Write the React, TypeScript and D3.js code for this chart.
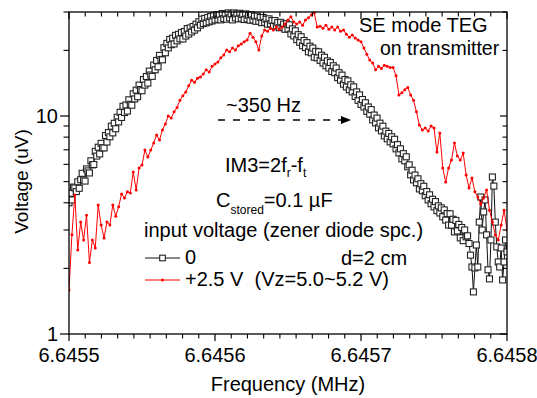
import React from "react";
import * as d3 from "d3";

// Frequency sweeps (MHz): start and step of each measured sweep
const freqStartMHz = 6.6455;
const zeroStepMHz = 0.000001;
const plusStepMHz = 0.000002;

// Series "0" (input voltage 0), values in uV
const seriesZero: number[] = [
  4.0, 4.42, 4.12, 4.72, 4.68, 4.5, 4.99, 4.66, 5.1, 5.46,
  5.09, 5.03, 5.72, 5.6, 5.48, 6.23, 5.97, 5.99, 6.88, 6.55,
  7.19, 6.7, 7.49, 7.15, 7.14, 8.14, 7.6, 8.39, 8.03, 8.98,
  8.37, 9.26, 8.74, 9.87, 9.4, 10.4, 9.85, 11.08, 10.38, 11.23,
  10.53, 11.87, 11.32, 11.21, 12.65, 11.98, 13.14, 12.26, 13.86, 13.23,
  13.06, 14.7, 13.87, 15.18, 14.16, 16.07, 15.42, 15.2, 17.12, 16.3,
  17.99, 16.82, 18.97, 18.18, 18.1, 20.58, 19.5, 21.53, 20.54, 22.46,
  21.24, 22.76, 21.41, 23.45, 22.12, 23.69, 22.6, 24.13, 22.56, 24.41,
  23.28, 25.17, 23.77, 25.34, 24.3, 25.75, 24.79, 26.37, 25.38, 27.09,
  26.12, 27.81, 26.56, 28.02, 26.75, 28.3, 27.05, 28.6, 27.3, 28.8,
  27.6, 29.1, 27.8, 29.1, 27.6, 29.5, 28.0, 29.3, 27.8, 29.7,
  28.2, 29.4, 27.6, 29.7, 28.2, 29.4, 27.9, 29.6, 28.1, 29.2,
  27.7, 29.4, 27.9, 29.0, 27.5, 29.1, 27.6, 28.7, 27.2, 28.7,
  27.2, 28.3, 26.8, 28.3, 26.9, 27.8, 26.4, 27.9, 26.5, 27.4,
  25.9, 27.4, 25.9, 26.8, 25.4, 26.9, 25.5, 26.4, 25.0, 26.5,
  25.1, 26.2, 23.8, 25.1, 23.3, 24.6, 22.4, 23.6, 21.8, 23.1,
  21.0, 22.2, 20.6, 21.7, 19.7, 20.9, 19.5, 20.5, 18.6, 19.8,
  18.5, 19.7, 18.0, 19.0, 17.5, 18.6, 17.0, 17.9, 16.6, 17.6,
  16.0, 17.0, 15.8, 16.6, 15.0, 15.8, 14.6, 15.4, 14.0, 14.7,
  13.6, 14.5, 13.2, 13.9, 12.9, 13.6, 12.3, 12.9, 11.8, 12.5,
  11.3, 11.9, 11.0, 11.5, 10.5, 11.0, 10.2, 10.7, 9.6, 10.1,
  9.3, 9.78, 8.83, 9.27, 8.55, 8.98, 8.11, 8.52, 7.86, 8.32,
  7.61, 8.03, 7.45, 7.82, 7.07, 7.39, 6.77, 7.07, 6.36, 6.72,
  6.23, 6.5, 5.85, 5.97, 5.37, 5.64, 5.09, 5.36, 4.94, 5.15,
  4.63, 4.89, 4.54, 4.76, 4.31, 4.5, 4.12, 4.35, 3.96, 4.15,
  3.83, 4.05, 3.68, 3.87, 3.59, 3.79, 3.45, 3.71, 3.33, 3.57,
  3.16, 3.56, 3.16, 3.36, 2.94, 3.32, 2.97, 3.18, 2.76, 3.08,
  2.68, 3.0, 2.79, 2.82, 2.6, 2.3, 2.03, 1.56, 2.01, 2.56,
  2.03, 3.26, 4.25, 3.0, 3.63, 4.12, 2.85, 1.97, 1.79, 2.7,
  5.25, 4.77, 3.26, 2.51, 2.14, 2.03, 2.48, 1.77, 2.14, 2.7,
  2.38,
];

// Series "+2.5 V (Vz=5.0~5.2 V)", values in uV
const seriesPlus25: number[] = [
  1.59, 2.85, 4.34, 2.43, 3.26, 2.7, 3.51, 2.13, 2.7, 2.48,
  3.91, 3.16, 2.76, 3.26, 3.16, 3.91, 3.47, 3.83, 4.39, 4.21,
  4.49, 4.44, 5.54, 4.58, 5.77, 5.96, 6.98, 6.48, 6.98, 7.52,
  8.18, 7.76, 8.63, 9.2, 10.0, 9.79, 10.45, 10.95, 11.8, 12.4,
  12.9, 13.75, 14.6, 14.3, 14.9, 15.1, 15.6, 16.3, 15.9, 16.9,
  17.3, 17.7, 18.5, 19.05, 20.1, 19.7, 20.5, 20.1, 21.0, 21.4,
  21.9, 22.3, 24.0, 23.0, 21.9, 20.1, 23.3, 24.8, 24.5, 25.3,
  24.8, 25.6, 25.0, 25.6, 26.4, 27.6, 28.5, 27.0, 26.4, 27.0,
  26.1, 27.6, 28.2, 29.1, 29.7, 25.6, 25.8, 25.3, 26.1, 25.0,
  25.6, 24.8, 25.6, 24.5, 24.8, 23.7, 23.0, 23.5, 22.8, 22.3,
  21.9, 20.5, 19.2, 18.07, 17.5, 16.3, 16.9, 16.5, 17.1, 16.9,
  16.7, 16.7, 15.3, 12.5, 12.8, 13.2, 13.5, 12.5, 11.8, 10.45,
  9.1, 8.63, 8.81, 8.54, 9.0, 8.81, 6.83, 8.36, 5.77, 4.98,
  5.77, 6.28, 7.52, 6.55, 6.28, 6.76, 5.36, 4.68, 5.2, 4.49,
  4.25, 3.95, 4.21, 4.58, 3.7, 3.26, 2.85, 2.7, 3.16, 3.7,
  3.0,
];

const xMajorTicks = [6.6455, 6.6456, 6.6457, 6.6458];
const xTickLabels = ["6.6455", "6.6456", "6.6457", "6.6458"];
const yMajorTicks = [1, 10];
const yTickLabels = ["1", "10"];
const yMinorTicks = [2, 3, 4, 5, 6, 7, 8, 9, 20, 30];

const W = 537;
const H = 398;
const M = { left: 69, right: 507, top: 12, bottom: 334 };
const FONT = "'Liberation Sans', Arial, Helvetica, sans-serif";
const FS = 20;

export default function App() {
  const x = d3.scaleLinear().domain([6.6455, 6.6458]).range([M.left, M.right]);
  const y = d3.scaleLog().domain([1, 30]).range([M.bottom, M.top]);

  const zeroPts = seriesZero.map((v, i) => [freqStartMHz + i * zeroStepMHz, v] as [number, number]);
  const redPts = seriesPlus25.map((v, i) => [freqStartMHz + i * plusStepMHz, v] as [number, number]);

  const line = d3
    .line<[number, number]>()
    .x((d) => x(d[0]))
    .y((d) => y(d[1]));

  // x minor ticks: 8 minor ticks between majors
  const xMinor: number[] = [];
  for (let k = 0; k < xMajorTicks.length - 1; k++) {
    const a = xMajorTicks[k];
    const b = xMajorTicks[k + 1];
    for (let j = 1; j <= 8; j++) xMinor.push(a + ((b - a) * j) / 9);
  }

  const sq = 6;
  const ax = "#000";

  return (
    <svg
      width={W}
      height={H}
      style={{ position: "absolute", left: 0, top: 0, background: "#fff" }}
      fontFamily={FONT}
    >
      <defs>
        <clipPath id="plotclip">
          <rect x={M.left} y={M.top - 4} width={M.right - M.left} height={M.bottom - M.top + 4} />
        </clipPath>
        <marker id="arrowhead" markerWidth="10" markerHeight="8" refX="9" refY="4" orient="auto" markerUnits="userSpaceOnUse">
          <path d="M0,0 L10,4 L0,8 Z" fill="#000" />
        </marker>
      </defs>
      <rect x={0} y={0} width={W} height={H} fill="#fff" />

      {/* data */}
      <g clipPath="url(#plotclip)">
        <path d={line(zeroPts) || ""} fill="none" stroke="#111" strokeWidth={1} />
        {zeroPts.map((d, i) => (
          <rect
            key={"s" + i}
            x={x(d[0]) - sq / 2}
            y={y(d[1]) - sq / 2}
            width={sq}
            height={sq}
            fill="#fff"
            stroke="#222"
            strokeWidth={1.1}
          />
        ))}
        <path d={line(redPts) || ""} fill="none" stroke="#ff0000" strokeWidth={1} />
        {redPts.map((d, i) => (
          <circle key={"r" + i} cx={x(d[0])} cy={y(d[1])} r={1.5} fill="#ff0000" />
        ))}
      </g>

      {/* frame */}
      <rect
        x={M.left}
        y={M.top}
        width={M.right - M.left}
        height={M.bottom - M.top}
        fill="none"
        stroke={ax}
        strokeWidth={1.3}
      />

      {/* bottom & top ticks */}
      {xMajorTicks.map((t) => (
        <g key={"xm" + t}>
          <line x1={x(t)} x2={x(t)} y1={M.bottom} y2={M.bottom + 7} stroke={ax} strokeWidth={1.2} />
          <line x1={x(t)} x2={x(t)} y1={M.top} y2={M.top + 7} stroke={ax} strokeWidth={1.2} />
        </g>
      ))}
      {xMinor.map((t, i) => (
        <g key={"xn" + i}>
          <line x1={x(t)} x2={x(t)} y1={M.bottom} y2={M.bottom + 4.5} stroke={ax} strokeWidth={1.1} />
          <line x1={x(t)} x2={x(t)} y1={M.top} y2={M.top + 4.5} stroke={ax} strokeWidth={1.1} />
        </g>
      ))}
      {xMajorTicks.map((t, i) => (
        <text key={"xl" + t} x={x(t)} y={362} textAnchor="middle" fontSize={FS} fill="#000">
          {xTickLabels[i]}
        </text>
      ))}

      {/* left & right ticks */}
      {yMajorTicks.map((t) => (
        <g key={"ym" + t}>
          <line x1={M.left - 9} x2={M.left} y1={y(t)} y2={y(t)} stroke={ax} strokeWidth={1.2} />
          <line x1={M.right - 7} x2={M.right} y1={y(t)} y2={y(t)} stroke={ax} strokeWidth={1.2} />
        </g>
      ))}
      {yMinorTicks.map((t) => (
        <g key={"yn" + t}>
          <line x1={M.left - 5.5} x2={M.left} y1={y(t)} y2={y(t)} stroke={ax} strokeWidth={1.1} />
          <line x1={M.right - 4.5} x2={M.right} y1={y(t)} y2={y(t)} stroke={ax} strokeWidth={1.1} />
        </g>
      ))}
      {yMajorTicks.map((t, i) => (
        <text key={"yl" + t} x={58} y={y(t) + 7} textAnchor="end" fontSize={FS} fill="#000">
          {yTickLabels[i]}
        </text>
      ))}

      {/* axis titles */}
      <text x={288} y={391} textAnchor="middle" fontSize={20} fill="#000">
        Frequency (MHz)
      </text>
      <text
        transform="translate(27.5,181.5) rotate(-90)"
        textAnchor="middle"
        fontSize={19}
        fill="#000"
      >
        Voltage (uV)
      </text>

      {/* annotations */}
      <text x={359} y={32} fontSize={FS} fill="#000">SE mode TEG</text>
      <text x={380} y={55} fontSize={19.5} fill="#000">on transmitter</text>
      <text x={226} y={111.5} fontSize={FS} fill="#000">~350 Hz</text>
      <line
        x1={218}
        x2={350}
        y1={120}
        y2={120}
        stroke="#000"
        strokeWidth={1.3}
        strokeDasharray="7,8"
        markerEnd="url(#arrowhead)"
      />
      <text x={225} y={172} fontSize={FS} fill="#000">
        IM3=2f
        <tspan fontSize={12} dy={5}>r</tspan>
        <tspan dy={-5}>-f</tspan>
        <tspan fontSize={12} dy={5}>t</tspan>
      </text>
      <text x={216} y={207} fontSize={FS} fill="#000">
        C<tspan fontSize={12} dy={7}>stored</tspan>
        <tspan dy={-7}>=0.1 µF</tspan>
      </text>
      <text x={144} y={237} fontSize={FS} fill="#000">input voltage (zener diode spc.)</text>
      <text x={341} y={265} fontSize={FS} fill="#000">d=2 cm</text>

      {/* legend */}
      <line x1={145} x2={180} y1={258} y2={258} stroke="#111" strokeWidth={1} />
      <rect x={162.5 - 2.8} y={258 - 2.8} width={5.6} height={5.6} fill="#fff" stroke="#222" strokeWidth={1.1} />
      <text x={185} y={264} fontSize={FS} fill="#000">0</text>
      <line x1={145} x2={180} y1={280} y2={280} stroke="#ff0000" strokeWidth={1} />
      <circle cx={162.5} cy={280} r={1.5} fill="#ff0000" />
      <text x={185} y={286} fontSize={FS} fill="#000" style={{ whiteSpace: "pre" }}>
        {"+2.5 V  (Vz=5.0~5.2 V)"}
      </text>
    </svg>
  );
}
